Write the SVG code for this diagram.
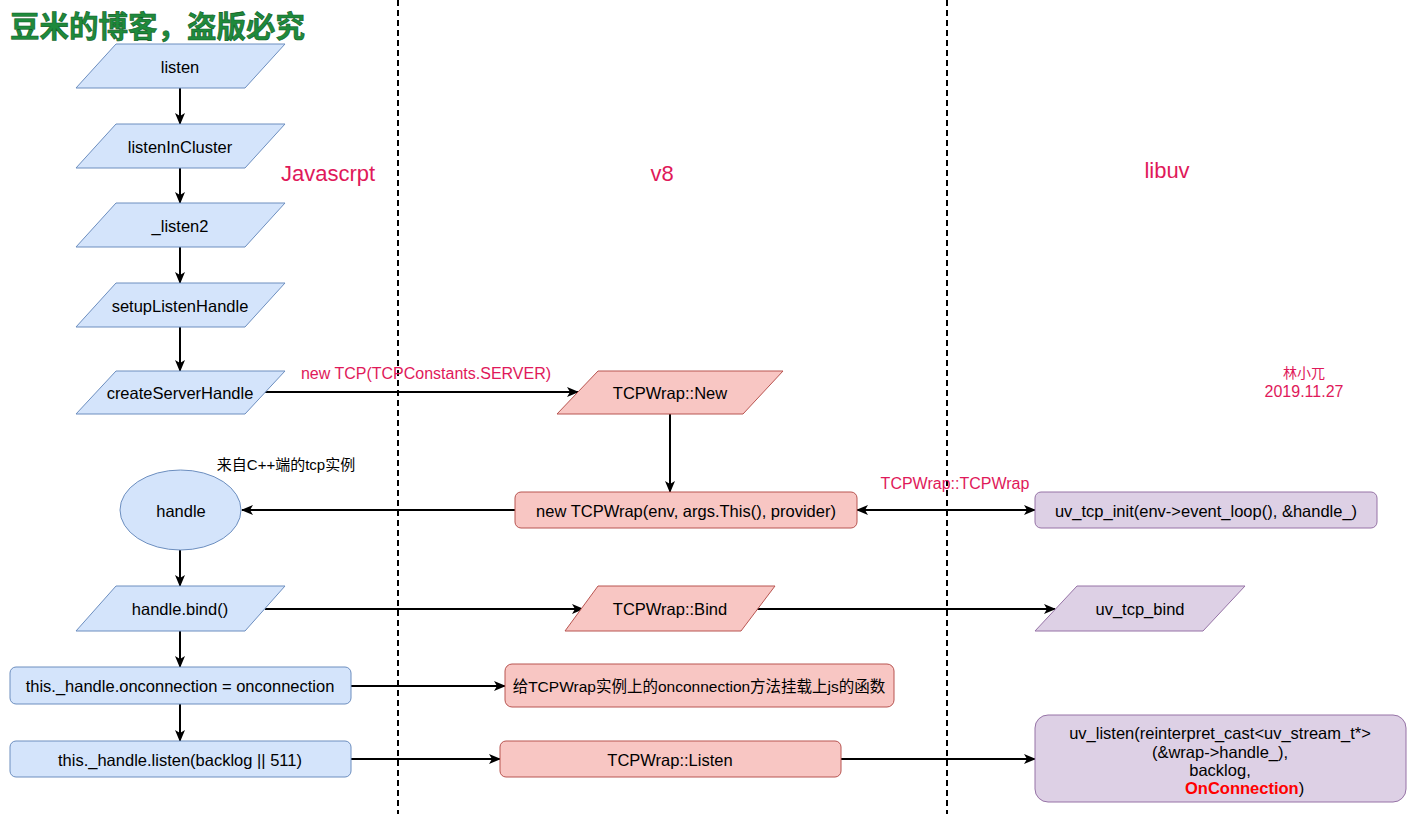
<svg xmlns="http://www.w3.org/2000/svg" width="1421" height="814" viewBox="0 0 1421 814">
<defs>
<style>
.t{font-family:"Liberation Sans",Arial,"Noto Sans CJK SC",sans-serif;font-size:16.5px;fill:#000;text-anchor:middle;dominant-baseline:central}
.cj{font-family:"Liberation Sans",Arial,"Noto Sans CJK SC",sans-serif;font-size:15px;fill:#000;text-anchor:middle;dominant-baseline:central}
.pk{font-family:"Liberation Sans",Arial,"Noto Sans CJK SC",sans-serif;font-size:16px;fill:#e0195a;text-anchor:middle;dominant-baseline:central}
.lane{font-family:"Liberation Sans",Arial,sans-serif;font-size:22px;fill:#e0195a;text-anchor:middle;dominant-baseline:central}
.blue{fill:#d4e4fb;stroke:#6c8ebf;stroke-width:1}
.red{fill:#f8c6c3;stroke:#b85450;stroke-width:1}
.pur{fill:#ddd0e5;stroke:#9673a6;stroke-width:1}
.c{fill:none;stroke:#000;stroke-width:2}
.dash{stroke:#000;stroke-width:2;stroke-dasharray:6 4;fill:none}
</style>
<marker id="ah" markerUnits="userSpaceOnUse" markerWidth="12" markerHeight="10" refX="11" refY="5" orient="auto">
<path d="M0,0 L12,5 L0,10 L3,5 Z" fill="#000"/>
</marker>
<marker id="as" markerUnits="userSpaceOnUse" markerWidth="12" markerHeight="10" refX="1" refY="5" orient="auto">
<path d="M12,0 L0,5 L12,10 L9,5 Z" fill="#000"/>
</marker>
</defs>
<rect width="1421" height="814" fill="#fff"/>

<g id="lanes">
<line class="dash" x1="398" y1="0" x2="398" y2="814"/>
<line class="dash" x1="947" y1="0" x2="947" y2="814"/>
<text class="lane" x="328" y="173">Javascrpt</text>
<text class="lane" x="662" y="173">v8</text>
<text class="lane" x="1167" y="170">libuv</text>
</g>

<text x="10" y="37" font-family="'Noto Sans CJK SC',sans-serif" font-size="29.5" font-weight="bold" fill="#1f8a3c" stroke="#0b5a22" stroke-width="0.6">豆米的博客，盗版必究</text>

<g id="author">
<text class="pk" x="1304" y="373" style="font-size:14px">林小兀</text>
<text class="pk" x="1304" y="391">2019.11.27</text>
</g>

<g id="connectors">
<path class="c" d="M180,88 L180,124" marker-end="url(#ah)"/>
<path class="c" d="M180,168 L180,203" marker-end="url(#ah)"/>
<path class="c" d="M180,247 L180,283" marker-end="url(#ah)"/>
<path class="c" d="M180,327 L180,371" marker-end="url(#ah)"/>
<path class="c" d="M265,392 L578,392" marker-end="url(#ah)"/>
<text class="pk" x="426" y="373">new TCP(TCPConstants.SERVER)</text>
<path class="c" d="M670,414 L670,492" marker-end="url(#ah)"/>
<path class="c" d="M515,510 L242,510" marker-end="url(#ah)"/>
<path class="c" d="M857,510 L1035,510" marker-start="url(#as)" marker-end="url(#ah)"/>
<text class="pk" x="955" y="483">TCPWrap::TCPWrap</text>
<path class="c" d="M180,550 L180,586" marker-end="url(#ah)"/>
<path class="c" d="M265,609 L583,609" marker-end="url(#ah)"/>
<path class="c" d="M757,609 L1055,609" marker-end="url(#ah)"/>
<path class="c" d="M180,631 L180,667" marker-end="url(#ah)"/>
<path class="c" d="M351,686 L505,686" marker-end="url(#ah)"/>
<path class="c" d="M180,704 L180,741" marker-end="url(#ah)"/>
<path class="c" d="M351,759 L500,759" marker-end="url(#ah)"/>
<path class="c" d="M841,759 L1035,759" marker-end="url(#ah)"/>
</g>

<g id="listen">
<path class="blue" d="M116,44 L285,44 L245,88 L76,88 Z"/>
<text class="t" x="180" y="67">listen</text>
</g>
<g id="listenInCluster">
<path class="blue" d="M116,124 L285,124 L245,168 L76,168 Z"/>
<text class="t" x="180" y="147">listenInCluster</text>
</g>
<g id="listen2">
<path class="blue" d="M116,203 L285,203 L245,247 L76,247 Z"/>
<text class="t" x="180" y="226">_listen2</text>
</g>
<g id="setupListenHandle">
<path class="blue" d="M116,283 L285,283 L245,327 L76,327 Z"/>
<text class="t" x="180" y="306">setupListenHandle</text>
</g>
<g id="createServerHandle">
<path class="blue" d="M116,371 L285,371 L245,414 L76,414 Z"/>
<text class="t" x="180" y="393">createServerHandle</text>
</g>

<g id="tcpwrapNew">
<path class="red" d="M598,371 L783,371 L743,414 L557,414 Z"/>
<text class="t" x="670" y="393">TCPWrap::New</text>
</g>
<g id="newTCPWrap">
<rect class="red" x="515" y="492" width="342" height="36" rx="6"/>
<text class="t" x="686" y="511">new TCPWrap(env, args.This(), provider)</text>
</g>
<g id="uvTcpInit">
<rect class="pur" x="1035" y="492" width="342" height="36" rx="6"/>
<text class="t" x="1206" y="511">uv_tcp_init(env-&gt;event_loop(), &amp;handle_)</text>
</g>

<g id="handle">
<ellipse class="blue" cx="180.5" cy="510" rx="60.5" ry="40"/>
<text class="t" x="181" y="511">handle</text>
<text class="cj" x="286" y="464">来自C++端的tcp实例</text>
</g>

<g id="handleBind">
<path class="blue" d="M116,586 L285,586 L245,631 L76,631 Z"/>
<text class="t" x="180" y="609">handle.bind()</text>
</g>
<g id="tcpwrapBind">
<path class="red" d="M598,586 L775,586 L741,631 L565,631 Z"/>
<text class="t" x="670" y="609">TCPWrap::Bind</text>
</g>
<g id="uvTcpBind">
<path class="pur" d="M1077,586 L1245,586 L1203,631 L1035,631 Z"/>
<text class="t" x="1140" y="609">uv_tcp_bind</text>
</g>

<g id="onconnection">
<rect class="blue" x="10" y="667" width="341" height="37" rx="6"/>
<text class="t" x="180" y="686">this._handle.onconnection = onconnection</text>
</g>
<g id="onconnectionNote">
<rect class="red" x="505" y="664" width="389" height="43" rx="7"/>
<text class="cj" x="699" y="686" style="font-size:15.5px">给TCPWrap实例上的onconnection方法挂载上js的函数</text>
</g>

<g id="handleListen">
<rect class="blue" x="10" y="741" width="341" height="36" rx="6"/>
<text class="t" x="180" y="760">this._handle.listen(backlog || 511)</text>
</g>
<g id="tcpwrapListen">
<rect class="red" x="500" y="741" width="341" height="36" rx="6"/>
<text class="t" x="670" y="760">TCPWrap::Listen</text>
</g>
<g id="uvListen">
<rect class="pur" x="1035" y="715" width="371" height="87" rx="13"/>
<text class="t" x="1220" y="733">uv_listen(reinterpret_cast&lt;uv_stream_t*&gt;</text>
<text class="t" x="1220" y="752">(&amp;wrap-&gt;handle_),</text>
<text class="t" x="1220" y="770">backlog,</text>
<text class="t" x="1185" y="788" style="text-anchor:start"><tspan font-weight="bold" fill="#ff0000">OnConnection</tspan>)</text>
</g>
</svg>
